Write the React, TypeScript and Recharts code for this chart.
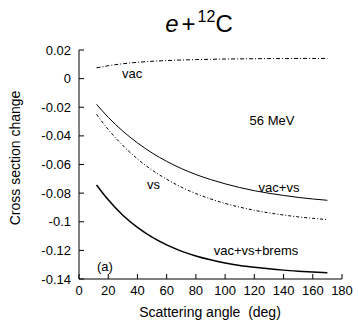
import { LineChart, Line, XAxis, YAxis } from 'recharts'

const angles = [12, 20, 30, 40, 50, 60, 70, 80, 90, 100, 110, 120, 130, 140, 150, 160, 170]
const vac = [0.0075, 0.009, 0.0104, 0.0114, 0.0121, 0.0126, 0.013, 0.0133, 0.0135, 0.0137, 0.0138, 0.0139, 0.014, 0.014, 0.0141, 0.0141, 0.0141]
const vacVs = [-0.018, -0.027, -0.0367, -0.0449, -0.0519, -0.0578, -0.0628, -0.067, -0.0705, -0.0735, -0.0761, -0.0783, -0.0801, -0.0816, -0.083, -0.0841, -0.085]
const vs = [-0.025, -0.0355, -0.0467, -0.0561, -0.0639, -0.0703, -0.0758, -0.0803, -0.084, -0.0872, -0.0898, -0.092, -0.0938, -0.0953, -0.0966, -0.0976, -0.0985]
const brems = [-0.0743, -0.0847, -0.0955, -0.104, -0.1108, -0.1162, -0.1205, -0.1239, -0.1266, -0.1288, -0.1305, -0.1318, -0.1329, -0.1338, -0.1345, -0.1351, -0.1356]

const xTicks = [0, 20, 40, 60, 80, 100, 120, 140, 160, 180]
const yTicks = [0.02, 0, -0.02, -0.04, -0.06, -0.08, -0.1, -0.12, -0.14]

const data = angles.map((a, i) => ({ angle: a, vac: vac[i], vacVs: vacVs[i], vs: vs[i], brems: brems[i] }))

const FONT = '"Liberation Sans", Arial, sans-serif'
const tickStyle = { fill: '#000', fontSize: 13, fontFamily: FONT }

const fmtY = (v: number) => {
  const r = Number(v.toFixed(2))
  return r === 0 ? '0' : String(r)
}

export default function App() {
  return (
    <div style={{ position: 'absolute', left: 0, top: 0, width: 358, height: 321, background: '#fff' }}>
      <LineChart width={358} height={321} data={data} margin={{ top: 50, right: 16, left: 0, bottom: 0 }}>
        <XAxis
          dataKey="angle" type="number" domain={[0, 180]} ticks={xTicks} interval={0}
          height={42} tickSize={-5} tickMargin={12}
          axisLine={{ stroke: '#000' }} tickLine={{ stroke: '#000' }} tick={tickStyle}
        />
        <XAxis
          xAxisId="top" orientation="top" dataKey="angle" type="number" domain={[0, 180]} ticks={xTicks}
          height={0} tickSize={-5} tick={false}
          axisLine={{ stroke: '#000' }} tickLine={{ stroke: '#000' }}
        />
        <YAxis
          type="number" domain={[-0.14, 0.02]} ticks={yTicks} interval={0}
          width={79} tickSize={-5} tickMargin={13} tickFormatter={fmtY}
          axisLine={{ stroke: '#000' }} tickLine={{ stroke: '#000' }} tick={tickStyle}
        />
        <YAxis
          yAxisId="right" orientation="right" type="number" domain={[-0.14, 0.02]} ticks={yTicks}
          width={0} tickSize={-5} tick={false}
          axisLine={{ stroke: '#000' }} tickLine={{ stroke: '#000' }}
        />
        <Line dataKey="vac" type="monotone" stroke="#000" strokeWidth={1} strokeDasharray="4 2 1 2" dot={false} isAnimationActive={false} />
        <Line dataKey="vacVs" type="monotone" stroke="#000" strokeWidth={1} dot={false} isAnimationActive={false} />
        <Line dataKey="vs" type="monotone" stroke="#000" strokeWidth={1} strokeDasharray="3 2 1 2" dot={false} isAnimationActive={false} />
        <Line dataKey="brems" type="monotone" stroke="#000" strokeWidth={1.5} dot={false} isAnimationActive={false} />
      </LineChart>

      {/* title, axis titles and in-plot annotations */}
      <svg width={358} height={321} style={{ position: 'absolute', left: 0, top: 0, pointerEvents: 'none' }}>
        <text x={199} y={32} textAnchor="middle" fontFamily={FONT} fontSize={24} fill="#000">
          <tspan fontStyle="italic">e</tspan>
          <tspan dx={3}>+</tspan>
          <tspan fontSize={16} dx={2} dy={-10}>12</tspan>
          <tspan dy={10}>C</tspan>
        </text>
        <text x={210} y={317} textAnchor="middle" fontFamily={FONT} fontSize={14} fill="#000" xmlSpace="preserve">Scattering angle  (deg)</text>
        <text x={0} y={0} transform="translate(20,158) rotate(-90)" textAnchor="middle" fontFamily={FONT} fontSize={14} fill="#000">Cross section change</text>
        <g fontFamily={FONT} fontSize={13} fill="#000">
          <text x={122} y={78}>vac</text>
          <text x={272} y={125} textAnchor="middle">56 MeV</text>
          <text x={279} y={192} textAnchor="middle">vac+vs</text>
          <text x={147} y={189}>vs</text>
          <text x={256} y={255} textAnchor="middle">vac+vs+brems</text>
          <text x={97} y={271}>(a)</text>
        </g>
      </svg>
    </div>
  )
}
